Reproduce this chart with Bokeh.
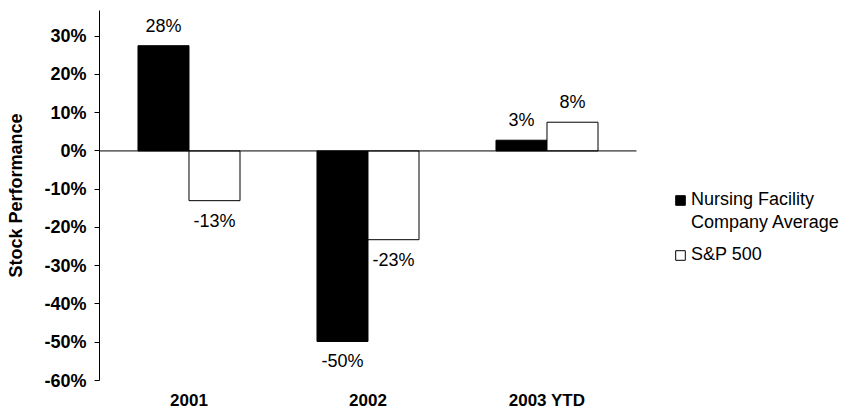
from bokeh.plotting import figure
from bokeh.models import (Range1d, FixedTicker, NumeralTickFormatter, Legend, LegendItem,
                          ColumnDataSource)
from bokeh.core.properties import value
from bokeh.embed import file_html
from bokeh.resources import INLINE

# ---- data ----
categories = ["2001", "2002", "2003 YTD"]
nursing = [0.275, -0.498, 0.028]
sp500 = [-0.130, -0.232, 0.075]
nursing_labels = ["28%", "-50%", "3%"]
sp500_labels = ["-13%", "-23%", "8%"]
y_ticks = [-0.6, -0.5, -0.4, -0.3, -0.2, -0.1, 0.0, 0.1, 0.2, 0.3]
nursing_name = ["Nursing Facility", "Company Average"]
sp500_name = "S&P 500"

FONT = "Liberation Sans"
n = len(categories)
centers = [i + 0.5 for i in range(n)]
bw = 0.285
off = bw / 2

p = figure(width=845, height=412, output_backend="svg", toolbar_location=None,
           x_range=Range1d(0, 4.1676), y_range=Range1d(-0.6, 0.367),
           min_border_left=99, min_border_right=0, min_border_top=10, min_border_bottom=30)
p.outline_line_color = None
p.grid.visible = False
p.background_fill_color = "white"

src_n = ColumnDataSource(dict(x=[c - off for c in centers], top=nursing, lab=nursing_labels,
                              off=[-20 if v >= 0 else 20 for v in nursing]))
src_s = ColumnDataSource(dict(x=[c + off for c in centers], top=sp500, lab=sp500_labels,
                              off=[-20 if v >= 0 else 20 for v in sp500]))

r1 = p.vbar(x="x", top="top", bottom=0, width=bw, source=src_n,
            fill_color="black", line_color="black", line_width=1)
r2 = p.vbar(x="x", top="top", bottom=0, width=bw, source=src_s,
            fill_color="white", line_color="black", line_width=1)
# invisible renderer used for the second line of the first legend entry
r_blank = p.vbar(x=[], top=[], bottom=0, width=bw, fill_alpha=0, line_alpha=0)

# zero line across the category area
p.segment(x0=[0], y0=[0], x1=[n], y1=[0], line_color="black", line_width=1)

for src in (src_n, src_s):
    p.text(x="x", y="top", text="lab", y_offset="off", source=src,
           text_align="center", text_baseline="middle",
           text_font=value(FONT), text_font_size="18px", text_color="black")

# y axis
ya = p.yaxis[0]
ya.ticker = FixedTicker(ticks=y_ticks, minor_ticks=[])
ya.formatter = NumeralTickFormatter(format="0%")
ya.axis_label = "Stock Performance"
ya.axis_label_text_font = FONT
ya.axis_label_text_font_style = "bold"
ya.axis_label_text_font_size = "18px"
ya.axis_label_text_color = "black"
ya.axis_label_standoff = 15
ya.major_label_text_font = FONT
ya.major_label_text_font_style = "bold"
ya.major_label_text_font_size = "18px"
ya.major_label_standoff = 8
ya.major_tick_in = 0
ya.major_tick_out = 5
ya.minor_tick_in = 0
ya.minor_tick_out = 0
ya.axis_line_color = "black"
ya.major_tick_line_color = "black"
ya.major_label_text_color = "black"

# x axis
xa = p.xaxis[0]
xa.ticker = FixedTicker(ticks=centers, minor_ticks=[])
xa.major_label_overrides = {c: cat for c, cat in zip(centers, categories)}
xa.axis_line_color = None
xa.major_tick_line_color = None
xa.minor_tick_line_color = None
xa.major_tick_in = 0
xa.major_tick_out = 0
xa.major_label_text_font = FONT
xa.major_label_text_font_style = "bold"
xa.major_label_text_font_size = "17px"
xa.major_label_standoff = 10
xa.major_label_text_color = "black"

common = dict(padding=0, margin=0, spacing=2, glyph_width=12, glyph_height=12,
              label_standoff=5, label_text_font=FONT, label_text_font_size="18px",
              label_text_color="black", border_line_color=None, background_fill_alpha=0)
legend1 = Legend(items=[LegendItem(label=nursing_name[0], renderers=[r1]),
                        LegendItem(label=nursing_name[1], renderers=[r_blank])],
                 location=(575, 147), **common)
legend2 = Legend(items=[LegendItem(label=sp500_name, renderers=[r2])],
                 location=(575, 115), **common)
p.add_layout(legend1, "center")
p.add_layout(legend2, "center")

open("out.html", "w").write(file_html(p, INLINE))
